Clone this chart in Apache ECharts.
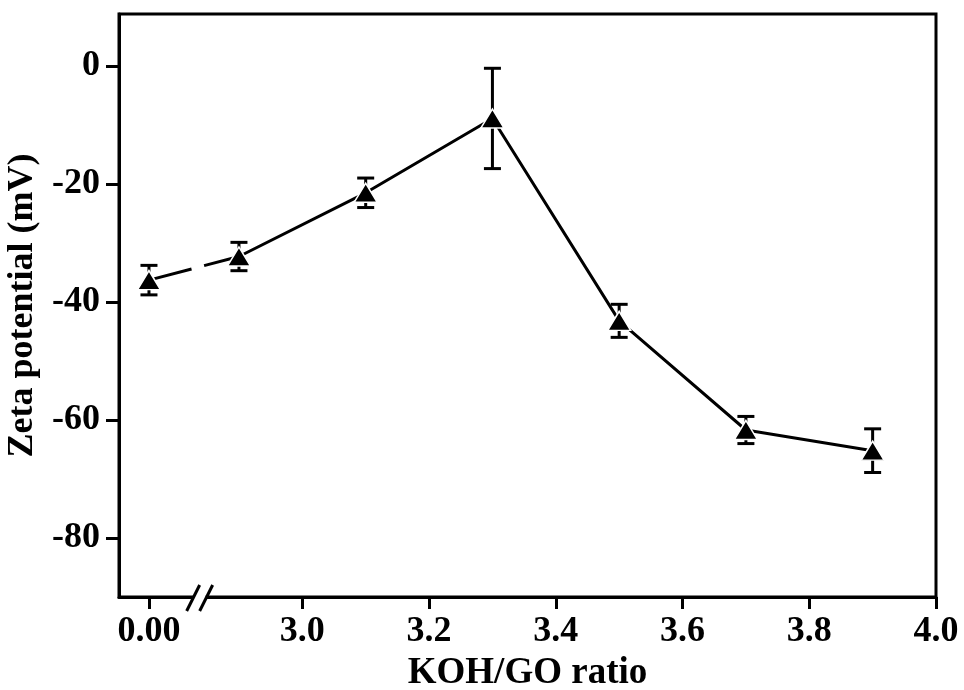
<!DOCTYPE html>
<html>
<head>
<meta charset="utf-8">
<script src="https://cdn.jsdelivr.net/npm/echarts@6/dist/echarts.min.js"></script>
<style>
html,body{margin:0;padding:0;background:#fff;}
#chart{width:964px;height:690px;}
</style>
</head>
<body>
<div id="chart"></div>
<script>
// KOH/GO ratio (0.00 is drawn left of an axis break)
const ratios = [0.00, 2.9, 3.1, 3.3, 3.5, 3.7, 3.9];
// Zeta potential (mV)
const zeta = [-36.3, -32.3, -21.5, -8.9, -43.2, -61.7, -65.2];
// error bar half-widths (mV)
const zetaErr = [2.5, 2.4, 2.5, 8.5, 2.8, 2.3, 3.7];
// tick labels
const xTicks = [0.00, 3.0, 3.2, 3.4, 3.6, 3.8, 4.0];
const yTicks = [0, -20, -40, -60, -80];

// broken x axis: where ratio 0 sits on the axis, and where the break mark is
const ZERO_POS = 2.758;
const BREAK_POS = 2.838;
const X_MIN = 2.7107, X_MAX = 4.0;
const Y_MIN = -90, Y_MAX = 8.8;
const pos = r => (r === 0 ? ZERO_POS : r);

const pts = ratios.map((r, i) => [pos(r), zeta[i]]);
const errData = ratios.map((r, i) => [pos(r), zeta[i], zeta[i] - zetaErr[i], zeta[i] + zetaErr[i]]);
const xTickPos = xTicks.map(pos);

const FONT = 'Liberation Serif';
const chart = echarts.init(document.getElementById('chart'), null, {renderer: 'canvas'});

chart.setOption({
  backgroundColor: '#fff',
  animation: false,
  grid: {left: 119, right: 28, top: 14, bottom: 93, show: true, borderColor: '#000', borderWidth: 3,
         containLabel: false, outerBoundsMode: 'none'},
  xAxis: {
    type: 'value', min: X_MIN, max: X_MAX,
    name: 'KOH/GO ratio', nameLocation: 'middle', nameGap: 52,
    nameTextStyle: {fontFamily: FONT, fontWeight: 'bold', fontSize: 37, color: '#000'},
    axisLine: {show: true, onZero: false, lineStyle: {color: '#000', width: 3}},
    axisTick: {show: true, length: 12, lineStyle: {color: '#000', width: 3}, customValues: xTickPos},
    axisLabel: {
      margin: 17, fontFamily: FONT, fontWeight: 'bold', fontSize: 36, color: '#000',
      customValues: xTickPos, hideOverlap: false,
      formatter: v => (Math.abs(v - ZERO_POS) < 1e-6 ? '0.00' : v.toFixed(1))
    },
    splitLine: {show: false}
  },
  yAxis: {
    type: 'value', min: Y_MIN, max: Y_MAX,
    name: 'Zeta potential (mV)', nameLocation: 'middle', nameGap: 74, nameRotate: 90,
    nameTextStyle: {fontFamily: FONT, fontWeight: 'bold', fontSize: 36, color: '#000'},
    axisLine: {show: true, onZero: false, lineStyle: {color: '#000', width: 3}},
    axisTick: {show: true, length: 13, lineStyle: {color: '#000', width: 3}, customValues: yTicks},
    axisLabel: {
      margin: 19, fontFamily: FONT, fontWeight: 'bold', fontSize: 36, color: '#000',
      customValues: yTicks, formatter: v => String(v)
    },
    splitLine: {show: false}
  },
  series: [
    {
      type: 'custom', z: 1, clip: false,
      encode: {x: 0, y: [2, 3]},
      data: errData,
      renderItem: (params, api) => {
        const x = api.value(0);
        const lo = api.coord([x, api.value(2)]);
        const hi = api.coord([x, api.value(3)]);
        const w = 8.5;
        const st = {stroke: '#000', lineWidth: 3};
        return {type: 'group', children: [
          {type: 'line', shape: {x1: hi[0], y1: hi[1], x2: lo[0], y2: lo[1]}, style: st},
          {type: 'line', shape: {x1: hi[0] - w, y1: hi[1], x2: hi[0] + w, y2: hi[1]}, style: st},
          {type: 'line', shape: {x1: lo[0] - w, y1: lo[1], x2: lo[0] + w, y2: lo[1]}, style: st}
        ]};
      }
    },
    {
      type: 'line', z: 2, data: pts.slice(0, 2), showSymbol: false, symbol: 'none',
      lineStyle: {color: '#000', width: 3, type: [44, 13]}
    },
    {
      type: 'line', z: 3, data: pts.slice(1),
      symbol: 'none',
      lineStyle: {color: '#000', width: 3}
    },
    {
      type: 'scatter', z: 4, data: pts,
      symbol: 'triangle', symbolSize: [23, 19],
      itemStyle: {color: '#000', borderColor: '#fff', borderWidth: 1.5, opacity: 1}
    }
  ]
});

// axis-break mark on the x axis
const bx = chart.convertToPixel({xAxisIndex: 0}, BREAK_POS);
const by = chart.convertToPixel({yAxisIndex: 0}, Y_MIN);
chart.setOption({
  graphic: [
    {type: 'rect', z: 100, shape: {x: bx - 6, y: by - 3, width: 12, height: 6}, style: {fill: '#fff'}},
    {type: 'line', z: 101, shape: {x1: bx - 13, y1: by + 14, x2: bx, y2: by - 12}, style: {stroke: '#000', lineWidth: 3}},
    {type: 'line', z: 101, shape: {x1: bx, y1: by + 14, x2: bx + 13, y2: by - 12}, style: {stroke: '#000', lineWidth: 3}}
  ]
});
</script>
</body>
</html>
